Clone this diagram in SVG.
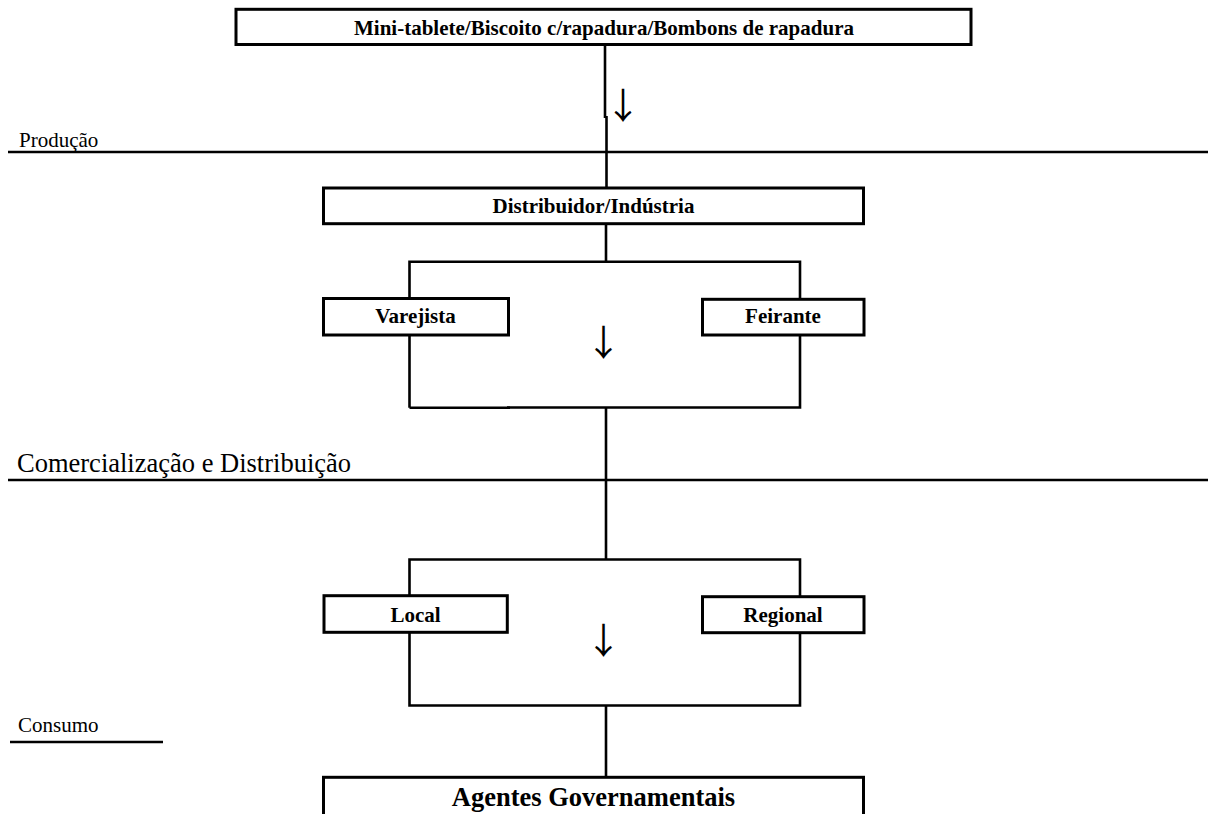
<svg xmlns="http://www.w3.org/2000/svg" width="1208" height="814" viewBox="0 0 1208 814">
<style>
.box{fill:#fff;stroke:#000;stroke-width:3}
.ln{fill:none;stroke:#000;stroke-width:2.6}
.lbl{font-family:"Liberation Serif","Times New Roman",serif;font-weight:bold;font-size:21px;text-anchor:middle;fill:#000}
.sec{font-family:"Liberation Serif","Times New Roman",serif;font-size:21px;fill:#000}
.arr{font-family:"Noto Sans CJK JP","DejaVu Sans",sans-serif;font-size:36px;text-anchor:middle;dominant-baseline:central;fill:#000}
</style>
<rect width="1208" height="814" fill="#fff"/>
<g id="sections">
<line class="ln" x1="8" y1="152" x2="1208" y2="152"/>
<text class="sec" x="19" y="147">Produção</text>
<line class="ln" x1="8" y1="480" x2="1208" y2="480"/>
<text class="sec" x="17" y="471.5" style="font-size:26.5px">Comercialização e Distribuição</text>
<line class="ln" x1="10" y1="742" x2="163" y2="742"/>
<text class="sec" x="18" y="731.5">Consumo</text>
</g>
<g id="connectors">
<line class="ln" x1="605" y1="45" x2="605" y2="118"/>
<line class="ln" x1="606.5" y1="116" x2="606.5" y2="188"/>
<line class="ln" x1="606" y1="224" x2="606" y2="262"/>
<line class="ln" x1="606" y1="408" x2="606" y2="560"/>
<line class="ln" x1="606" y1="706" x2="606" y2="777"/>
<path class="ln" d="M409.5 407.7 V261.7 H800 V407.5 H507"/>
<line class="ln" x1="409.5" y1="407.7" x2="510" y2="407.7"/>
<path class="ln" d="M409.5 705.5 V559.5 H800 V705.5 Z"/>
<text class="arr" x="623" y="102.5">↓</text>
<text class="arr" x="603.5" y="340">↓</text>
<text class="arr" x="603.5" y="638">↓</text>
</g>
<g id="node-top">
<rect class="box" x="236" y="9.3" width="735" height="35.2"/>
<text class="lbl" x="604" y="35">Mini-tablete/Biscoito c/rapadura/Bombons de rapadura</text>
</g>
<g id="node-distribuidor">
<rect class="box" x="323.5" y="188" width="540" height="35.7"/>
<text class="lbl" x="593.5" y="213.3">Distribuidor/Indústria</text>
</g>
<g id="node-varejista">
<rect class="box" x="323.5" y="298.5" width="185" height="36.5"/>
<text class="lbl" x="415.5" y="323.3">Varejista</text>
</g>
<g id="node-feirante">
<rect class="box" x="702.5" y="299.3" width="161.5" height="35.7"/>
<text class="lbl" x="783" y="323.3">Feirante</text>
</g>
<g id="node-local">
<rect class="box" x="324" y="595.7" width="183.3" height="36.6"/>
<text class="lbl" x="415.5" y="621.7">Local</text>
</g>
<g id="node-regional">
<rect class="box" x="702.5" y="596.7" width="161.5" height="36"/>
<text class="lbl" x="783" y="621.7">Regional</text>
</g>
<g id="node-agentes">
<rect class="box" x="323.5" y="777.3" width="540" height="50"/>
<text class="lbl" x="593.5" y="806" style="font-size:26.5px">Agentes Governamentais</text>
</g>
</svg>
